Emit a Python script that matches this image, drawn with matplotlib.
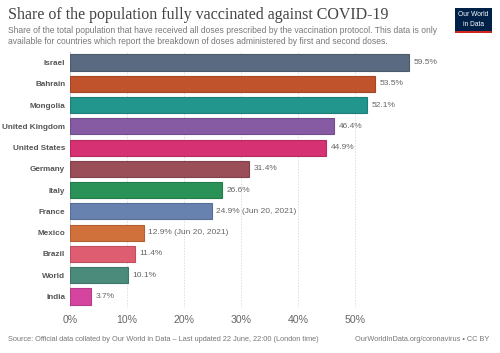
import matplotlib.pyplot as plt
import matplotlib.colors as mcolors
from matplotlib.patches import Rectangle

plt.rcParams["font.family"] = ["Liberation Sans", "DejaVu Sans"]

# data
countries = ["Israel", "Bahrain", "Mongolia", "United Kingdom", "United States", "Germany",
             "Italy", "France", "Mexico", "Brazil", "World", "India"]
values = [59.5, 53.5, 52.1, 46.4, 44.9, 31.4, 26.6, 24.9, 12.9, 11.4, 10.1, 3.7]
notes = ["", "", "", "", "", "", "", " (Jun 20, 2021)", " (Jun 20, 2021)", "", "", ""]
colors = ["#5a6a80", "#c0532c", "#22958c", "#865ba4", "#d63172", "#994e58",
          "#2a9257", "#6882b0", "#d0713c", "#df5d70", "#4a8b7b", "#d545a0"]
ticks = [0, 10, 20, 30, 40, 50]

fig = plt.figure(figsize=(5, 3.53), dpi=100)
ax = fig.add_axes([0.14, 0.13, 0.84, 0.723])

y = list(range(len(countries)))
edges = [tuple(c * 0.85 for c in mcolors.to_rgb(col)) for col in colors]
ax.barh(y, values, height=0.76, color=colors, edgecolor=edges, linewidth=0.8, zorder=3)

for yi, v, n in zip(y, values, notes):
    ax.text(v + 0.8, yi, f"{v}%{n}", va="center", ha="left", fontsize=6, color="#666666")

ax.set_ylim(len(countries) - 0.5, -0.5)
ax.set_xlim(0, 73.7)
ax.set_yticks(y)
ax.set_yticklabels(countries, fontsize=5.9, fontweight="bold", color="#555555")
ax.set_xticks(ticks)
ax.set_xticklabels([f"{t}%" for t in ticks], fontsize=7.6, color="#666666")
ax.tick_params(axis="both", length=0, pad=3.5)
ax.tick_params(axis="x", pad=6)
for s in ax.spines.values():
    s.set_visible(False)
for t in ticks[1:]:
    ax.axvline(t, color="#dddddd", linestyle=(0, (1.5, 1.5)), linewidth=0.7, zorder=1)
ax.axvline(0, color="#cccccc", linewidth=0.7, zorder=1)

fig.text(0.016, 0.958, "Share of the population fully vaccinated against COVID-19",
         fontsize=11.5, family="Liberation Serif", color="#444444", va="center")
fig.text(0.016, 0.913, "Share of the total population that have received all doses prescribed by the vaccination protocol. This data is only",
         fontsize=6.15, color="#777777", va="center")
fig.text(0.016, 0.882, "available for countries which report the breakdown of doses administered by first and second doses.",
         fontsize=6.15, color="#777777", va="center")
fig.text(0.016, 0.037, "Source: Official data collated by Our World in Data \u2013 Last updated 22 June, 22:00 (London time)",
         fontsize=5.35, color="#777777", va="center")
fig.text(0.978, 0.037, "OurWorldInData.org/coronavirus \u2022 CC BY",
         fontsize=5.35, color="#777777", va="center", ha="right")

# logo
fig.patches.append(Rectangle((0.91, 0.912), 0.074, 0.066, transform=fig.transFigure,
                             facecolor="#002147", edgecolor="none"))
fig.patches.append(Rectangle((0.91, 0.906), 0.074, 0.007, transform=fig.transFigure,
                             facecolor="#ce261e", edgecolor="none"))
fig.text(0.947, 0.958, "Our World", fontsize=4.8, color="white", ha="center", va="center")
fig.text(0.947, 0.930, "in Data", fontsize=4.8, color="white", ha="center", va="center")

fig.savefig("out.png", dpi=100)
